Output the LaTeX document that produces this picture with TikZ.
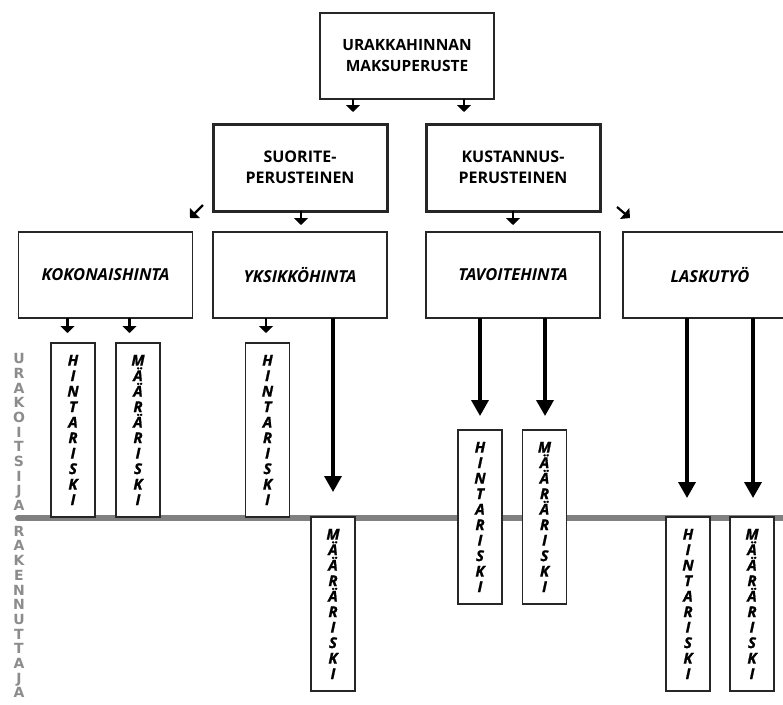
\documentclass[tikz,border=0pt]{standalone}
\usepackage{fontspec}
\setmainfont{Open Sans}
\newfontfamily\sidefont{DejaVu Sans}
\newfontfamily\riskfont{Open Sans}[BoldItalicFeatures={FakeBold=1.2}]
\usepackage{tikz}
\usetikzlibrary{arrows.meta}

\begin{document}
\begin{tikzpicture}
            [
            x=1pt, y=-1pt,
            box/.style={draw=black!85, line width=1.3pt, fill=white, minimum width=174pt, minimum height=86pt, inner sep=0pt, outer sep=0pt, align=center},
            topbox/.style={box, line width=1.6pt, font=\bfseries\fontsize{15.5}{21}\selectfont},
            basebox/.style={box, line width=3pt, minimum height=87pt, font=\bfseries\fontsize{16}{21}\selectfont},
            typebox/.style={box, font=\bfseries\itshape\fontsize{16.5}{18}\selectfont},
            riskbox/.style={draw=black!85, line width=1.2pt, fill=white, minimum width=44pt, minimum height=174pt, inner sep=0pt, outer sep=0pt, align=center, font=\riskfont\bfseries\itshape\fontsize{15}{15.5}\selectfont},
            side/.style={text=black!45, align=center, font=\sidefont\bfseries\fontsize{14}{14.7}\selectfont},
            sarrow/.style={line width=2.2pt, -{Triangle[width=14pt,length=7pt]}},
            larrow/.style={line width=3.5pt, -{Triangle[width=17pt,length=16pt]}}
            ]
        \useasboundingbox (0,0) rectangle (783,704);
        \clip (0,0) rectangle (783,704);
        % raja urakoitsijan ja rakennuttajan valilla
        \draw[line width=6pt, black!50, line cap=round] (18,518) -- (790,518);
        \node[side] (ur) at (19,432) {U\\R\\A\\K\\O\\I\\T\\S\\I\\J\\A};
        \node[side] (rak) at (19,612) {R\\A\\K\\E\\N\\N\\U\\T\\T\\A\\J\\A};
        % laatikot
        \node[topbox] (top) at (407,56) {URAKKAHINNAN\\MAKSUPERUSTE};
        \node[basebox] (suo) at (300,167.5) {SUORITE-\\PERUSTEINEN};
        \node[basebox] (kus) at (513,167.5) {KUSTANNUS-\\PERUSTEINEN};
        \node[typebox] (koko) at (105.5,275) {KOKONAISHINTA};
        \node[typebox] (yks) at (300,275) {YKSIKKÖHINTA};
        \node[typebox] (tav) at (513,275) {TAVOITEHINTA};
        \node[typebox] (lask) at (710,275) {LASKUTYÖ};
        \node[riskbox] (h1) at (73,430) {H\\I\\N\\T\\A\\R\\I\\S\\K\\I};
        \node[riskbox] (m1) at (138,430) {M\\Ä\\Ä\\R\\Ä\\R\\I\\S\\K\\I};
        \node[riskbox] (h2) at (267.5,430) {H\\I\\N\\T\\A\\R\\I\\S\\K\\I};
        \node[riskbox] (m2) at (333,604) {M\\Ä\\Ä\\R\\Ä\\R\\I\\S\\K\\I};
        \node[riskbox] (h3) at (480,517) {H\\I\\N\\T\\A\\R\\I\\S\\K\\I};
        \node[riskbox] (m3) at (544.5,517) {M\\Ä\\Ä\\R\\Ä\\R\\I\\S\\K\\I};
        \node[riskbox] (h4) at (688,604) {H\\I\\N\\T\\A\\R\\I\\S\\K\\I};
        \node[riskbox] (m4) at (752,604) {M\\Ä\\Ä\\R\\Ä\\R\\I\\S\\K\\I};
        % nuolet
        \draw[sarrow, shorten >=12pt] ([xshift=-54pt]top.south) -- ([xshift=-54pt]top.south |- suo.north);
        \draw[sarrow, shorten >=12pt] ([xshift=57pt]top.south) -- ([xshift=57pt]top.south |- kus.north);
        \draw[sarrow, shorten >=7pt] ([xshift=1pt]suo.south) -- ([xshift=1pt]suo.south |- yks.north);
        \draw[sarrow, shorten >=7pt] (kus.south) -- (tav.north);
        \coordinate (dl) at ([xshift=-10pt,yshift=6pt]suo.south west);
        \coordinate (dr) at ([xshift=17pt,yshift=4pt]kus.south east);
        \draw[sarrow] (dl) -- +(-13,13);
        \draw[sarrow] (dr) -- +(13,11);
        \draw[sarrow, shorten >=10pt] ([xshift=-38pt]koko.south) -- ([xshift=-38pt]koko.south |- h1.north);
        \draw[sarrow, shorten >=10pt] ([xshift=24pt]koko.south) -- ([xshift=24pt]koko.south |- m1.north);
        \draw[sarrow, shorten >=10pt] ([xshift=-34pt]yks.south) -- ([xshift=-34pt]yks.south |- h2.north);
        \draw[larrow, shorten >=25pt] ([xshift=33pt]yks.south) -- ([xshift=33pt]yks.south |- m2.north);
        \draw[larrow, shorten >=14pt] ([xshift=-33pt]tav.south) -- ([xshift=-33pt]tav.south |- h3.north);
        \draw[larrow, shorten >=14pt] ([xshift=32pt]tav.south) -- ([xshift=32pt]tav.south |- m3.north);
        \draw[larrow, shorten >=19pt] ([xshift=-23pt]lask.south) -- ([xshift=-23pt]lask.south |- h4.north);
        \draw[larrow, shorten >=19pt] ([xshift=43pt]lask.south) -- ([xshift=43pt]lask.south |- m4.north);
        \end{tikzpicture}
\end{document}
